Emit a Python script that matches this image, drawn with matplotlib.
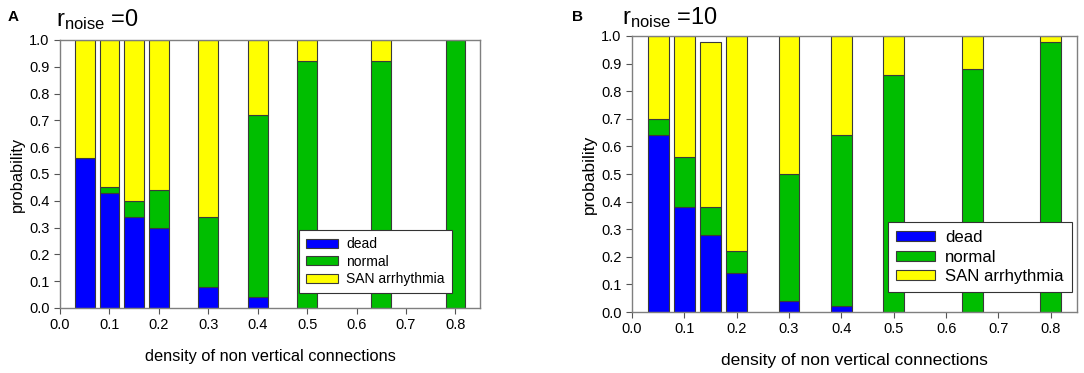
import matplotlib
matplotlib.use("Agg")
import matplotlib.pyplot as plt
import numpy as np

plt.rcParams["font.family"] = ["Liberation Sans", "DejaVu Sans"]
plt.rcParams["mathtext.fontset"] = "custom"
plt.rcParams["mathtext.rm"] = "Liberation Sans"

# bar positions (density of non vertical connections)
density = [0.05, 0.10, 0.15, 0.20, 0.30, 0.40, 0.50, 0.65, 0.80]

# panel A: r_noise = 0
dead_a = [0.56, 0.43, 0.34, 0.30, 0.08, 0.04, 0.0, 0.0, 0.0]
normal_a = [0.0, 0.02, 0.06, 0.14, 0.26, 0.68, 0.92, 0.92, 1.0]
san_a = [0.44, 0.55, 0.60, 0.56, 0.66, 0.28, 0.08, 0.08, 0.0]

# panel B: r_noise = 10
dead_b = [0.64, 0.38, 0.28, 0.14, 0.04, 0.02, 0.0, 0.0, 0.0]
normal_b = [0.06, 0.18, 0.10, 0.08, 0.46, 0.62, 0.86, 0.88, 0.98]
san_b = [0.30, 0.44, 0.60, 0.78, 0.50, 0.36, 0.14, 0.12, 0.02]

categories = ["dead", "normal", "SAN arrhythmia"]
colors = ["#0000FF", "#00BE00", "#FFFF00"]
xticks = [0.0, 0.1, 0.2, 0.3, 0.4, 0.5, 0.6, 0.7, 0.8]
yticks = [0.0, 0.1, 0.2, 0.3, 0.4, 0.5, 0.6, 0.7, 0.8, 0.9, 1.0]


def draw(ax, series, label_fs, leg_fs, legend_bbox, hlen, hh):
    bottom = np.zeros(len(density))
    for vals, name, col in zip(series, categories, colors):
        ax.bar(density, vals, width=0.04, bottom=bottom, color=col,
               edgecolor="#3a3a3a", linewidth=0.8, label=name)
        bottom += np.array(vals)
    ax.set_xlim(0, 0.85)
    ax.set_ylim(0, 1.0)
    ax.set_xticks(xticks)
    ax.set_xticklabels([f"{t:.1f}" for t in xticks], fontsize=10.5)
    ax.set_yticks(yticks)
    ax.set_yticklabels([f"{t:.1f}" for t in yticks], fontsize=10.5)
    ax.tick_params(direction="out", length=4, color="#555555", width=0.8)
    for s in ax.spines.values():
        s.set_color("#7f7f7f")
        s.set_linewidth(1.0)
    ax.set_xlabel("density of non vertical connections", fontsize=label_fs, labelpad=12)
    ax.set_ylabel("probability", fontsize=label_fs, labelpad=3)
    leg = ax.legend(loc="lower left", bbox_to_anchor=legend_bbox, fontsize=leg_fs,
                    frameon=True, fancybox=False, framealpha=1, borderaxespad=0,
                    handlelength=hlen, handleheight=hh,
                    borderpad=0.5, labelspacing=0.25, handletextpad=0.6)
    leg.get_frame().set_edgecolor("#333333")
    leg.get_frame().set_linewidth(0.8)


fig = plt.figure(figsize=(10.84, 3.73), dpi=100)
ax_a = fig.add_axes([0.0554, 0.1743, 0.3875, 0.7185])
ax_b = fig.add_axes([0.583, 0.1635, 0.4105, 0.740])

draw(ax_a, [dead_a, normal_a, san_a], 11.8, 10, (0.569, 0.056), 2.3, 0.6)
draw(ax_b, [dead_b, normal_b, san_b], 12.5, 12.1, (0.575, 0.072), 2.3, 0.55)

fig.text(0.007, 0.955, "A", fontsize=11, fontweight="bold", va="center")
fig.text(0.528, 0.955, "B", fontsize=11, fontweight="bold", va="center")
fig.text(0.052, 0.93, r"$\mathregular{r_{noise}}$ =0", fontsize=17, va="baseline")
fig.text(0.574, 0.935, r"$\mathregular{r_{noise}}$ =10", fontsize=17, va="baseline")

fig.savefig("out.png", dpi=100)
